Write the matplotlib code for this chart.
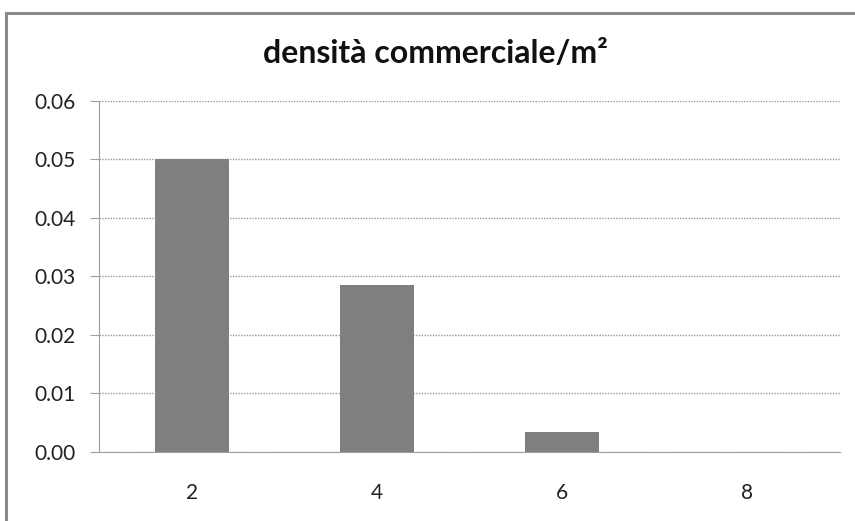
import matplotlib
matplotlib.use("Agg")
import matplotlib.pyplot as plt
from matplotlib.patches import Rectangle

categories = ["2", "4", "6", "8"]
values = [0.050, 0.0285, 0.0034, 0.0]
yticks = [0.00, 0.01, 0.02, 0.03, 0.04, 0.05, 0.06]
title = "densità commerciale/m²"

plt.rcParams['font.family'] = ['Lato', 'DejaVu Sans']

fig = plt.figure(figsize=(8.55, 5.21), dpi=100)
fig.patch.set_facecolor("white")

# outer chart frame (only left and top visible in the crop)
fig.add_artist(Rectangle((6/855, -0.1), 1.2, 1 - 13/521 + 0.1, transform=fig.transFigure,
                         fill=False, edgecolor="#8a8a8a", linewidth=2.2))

ax = fig.add_axes([99/855, 1 - 451.5/521, (840 - 99)/855, (451.5 - 101)/521])
x = list(range(len(categories)))
ax.bar(x, values, width=0.40, color="#7f7f7f", zorder=3)

ax.set_xlim(-0.5, 3.5)
ax.set_ylim(0, 0.06)
ax.set_yticks(yticks)
ax.set_yticklabels([f"{v:.2f}" for v in yticks], fontsize=15, color="#222222")
ax.set_xticks(x)
ax.set_xticklabels(categories, fontsize=15, color="#222222")

ax.grid(axis="y", linestyle=(0, (1, 1)), color="#9a9a9a", linewidth=1, zorder=0)
for s in ["top", "right"]:
    ax.spines[s].set_visible(False)
ax.spines["left"].set_color("#a0a0a0")
ax.spines["bottom"].set_color("#a0a0a0")
ax.tick_params(axis="y", length=6.5, color="#a0a0a0", pad=10)
ax.tick_params(axis="x", length=0, pad=23)

fig.text(435/855, 1 - 63/521, title, ha="center", va="baseline",
         fontsize=23, fontweight="bold", color="#111111")

fig.savefig("out.png", dpi=100)
